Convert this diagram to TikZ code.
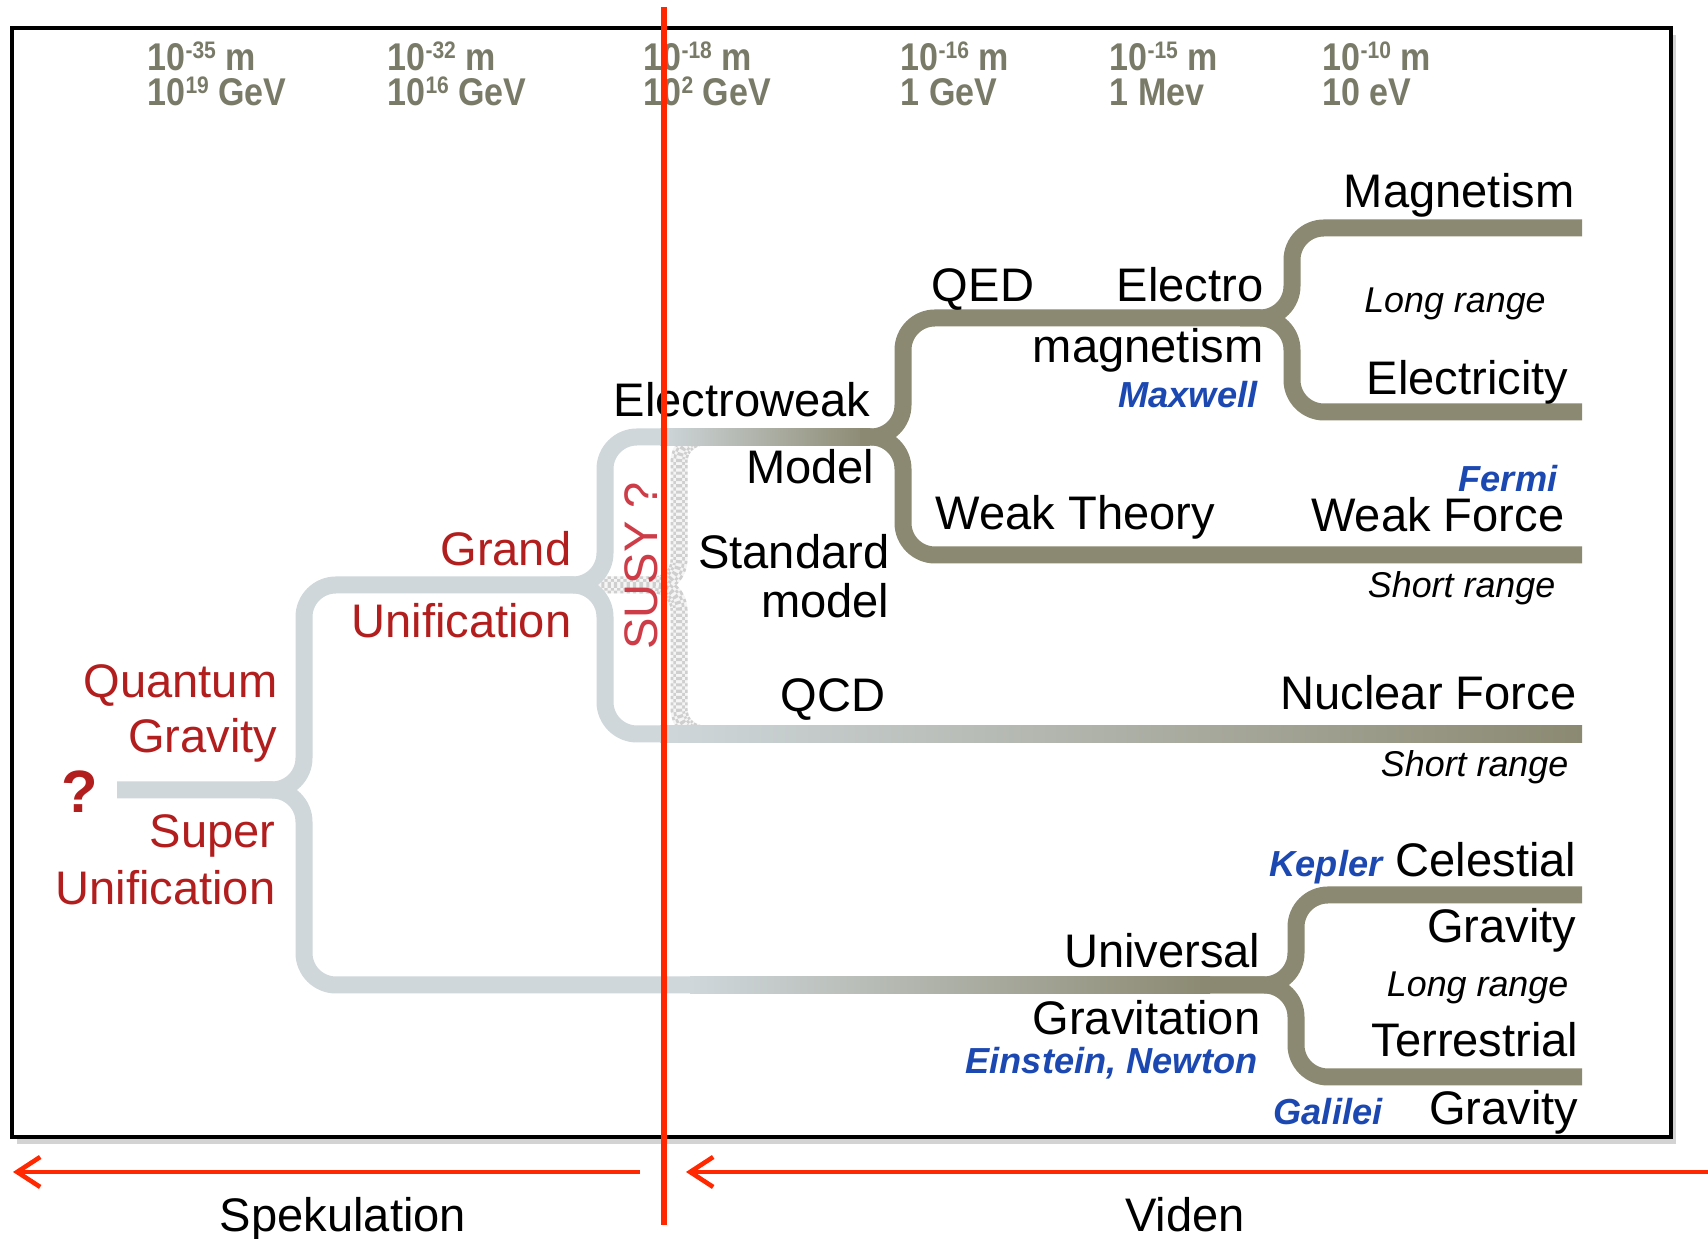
\documentclass[tikz,border=0pt]{standalone}
\usepackage{fontspec}
\setmainfont{Liberation Sans}
\newfontfamily\energyfam[FakeStretch=0.88]{Liberation Sans}
\usetikzlibrary{arrows.meta,shadows}

\definecolor{bandlight}{RGB}{207,215,219}
\definecolor{bandolive}{RGB}{139,137,113}
\definecolor{theoryred}{RGB}{178,30,30}
\definecolor{susyred}{RGB}{206,60,72}
\definecolor{namesblue}{RGB}{28,72,178}
\definecolor{energygray}{RGB}{122,122,104}
\definecolor{borderred}{RGB}{255,40,0}

\tikzset{
  band/.style={line width=1.7mm, rounded corners=3.2mm},
  susyband/.style={gray!38, rounded corners=2.5mm, dash pattern=on 0.9pt off 0.9pt},
  lbl/.style={inner sep=0pt, font=\fontsize{13.4}{16}\selectfont},
  theory/.style={lbl, text=theoryred},
  rangelbl/.style={inner sep=0pt, font=\fontsize{10.2}{12}\selectfont\itshape},
  who/.style={inner sep=0pt, text=namesblue, font=\fontsize{10.3}{12}\selectfont\bfseries\itshape},
  energylbl/.style={inner sep=0pt, text=energygray, font=\energyfam\fontsize{11}{12}\selectfont\bfseries},
  redarrow/.style={borderred, line width=1.3pt, -{Straight Barb[length=2.3mm,width=3mm]}}
}

% small raised exponent for the scale
\newcommand{\expo}[1]{\raisebox{0.6ex}{\fontsize{6.8}{7}\selectfont#1}}

% dotted (supersymmetric) arm, drawn as rows of dashes
\newcommand{\susyarm}[1]{%
  \draw[gray!8, line width=1.7mm, rounded corners=2.5mm] #1;
  \draw[susyband, line width=1.7mm] #1;
  \draw[gray!8, line width=1.15mm, rounded corners=2.5mm] #1;
  \draw[susyband, line width=1.15mm, dash phase=0.9pt] #1;
  \draw[gray!8, line width=0.6mm, rounded corners=2.5mm] #1;
  \draw[susyband, line width=0.6mm] #1;
}

\begin{document}
\begin{tikzpicture}
    \useasboundingbox (0,0) rectangle (17.08,12.39);

    \draw[line width=1.3pt, fill=white, drop shadow={shadow xshift=0.5mm, shadow yshift=-0.7mm, opacity=0.35}] (0.12,1.02) rectangle (16.71,12.11);

    % length and energy scale
    \foreach \x/\n/\en in {1.47/35/10\expo{19} GeV, 3.87/32/10\expo{16} GeV,
        6.43/18/10\expo{2} GeV, 9.00/16/1 GeV, 11.09/15/1 Mev, 13.22/10/10 eV}{
      \node[energylbl, anchor=base west] (len\n) at (\x,11.68) {10\expo{-\n} m};
      \node[energylbl, anchor=base west] (en\n) at (\x,11.33) {\en};
    }

    \susyarm{(5.95,6.54) -| (6.79,8.02) -- (7.05,8.02)}
    \susyarm{(6.40,6.54) -| (6.79,5.05) -- (7.05,5.05)}

    % unification bands
    \draw[band, bandlight] (1.17,4.49) -| (3.04,6.54) -| (6.05,8.02) -- (6.8,8.02);
    \draw[band, bandlight] (2.6,4.49) -| (3.04,2.54) -- (7.0,2.54);
    \draw[band, bandlight] (5.6,6.54) -| (6.05,5.05) -- (6.8,5.05);

    \shade[left color=bandlight, right color=bandolive] (6.6,7.935) rectangle (8.7,8.105);
    \shade[left color=bandlight, right color=bandolive] (6.6,4.965) rectangle (15.82,5.135);
    \shade[left color=bandlight, right color=bandolive] (6.9,2.455) rectangle (12.1,2.625);

    % known forces
    \draw[band, bandolive] (8.6,8.02) -| (9.03,9.21) -| (12.92,10.11) -- (15.82,10.11);
    \draw[band, bandolive] (12.4,9.21) -| (12.92,8.27) -- (15.82,8.27);
    \draw[band, bandolive] (8.6,8.02) -| (9.03,6.84) -- (15.82,6.84);
    \draw[band, bandolive] (12.0,2.54) -| (12.96,3.44) -- (15.82,3.44);
    \draw[band, bandolive] (12.0,2.54) -| (12.96,1.62) -- (15.82,1.62);

    % electroweak side
    \node[lbl, anchor=base east] (magnet) at (15.75,10.31) {Magnetism};
    \node[lbl, anchor=base] (qed) at (9.83,9.37) {QED};
    \node[lbl, anchor=base east] (electro) at (12.64,9.37) {Electro};
    \node[lbl, anchor=base east] (emag) at (12.64,8.76) {magnetism};
    \node[who, anchor=base east] (maxwell) at (12.58,8.31) {Maxwell};
    \node[rangelbl, anchor=base] (longem) at (14.55,9.26) {Long range};
    \node[lbl, anchor=base east] (elec) at (15.69,8.44) {Electricity};
    \node[lbl, anchor=base east] (ew) at (8.71,8.22) {Electroweak};
    \node[lbl, anchor=base east] (ewmodel) at (8.75,7.55) {Model};
    \node[who, anchor=base east] (fermi) at (15.58,7.47) {Fermi};
    \node[lbl, anchor=base west] (weakth) at (9.35,7.09) {Weak Theory};
    \node[lbl, anchor=base east] (weakf) at (15.65,7.07) {Weak Force};
    \node[rangelbl, anchor=base east] (shortw) at (15.56,6.41) {Short range};
    \node[lbl, anchor=base east] (std) at (8.90,6.70) {Standard};
    \node[lbl, anchor=base east] (stdm) at (8.90,6.21) {model};
    \node[lbl, anchor=base] (qcd) at (8.33,5.27) {QCD};
    \node[lbl, anchor=base east] (nuc) at (15.77,5.29) {Nuclear Force};
    \node[rangelbl, anchor=base east] (shortn) at (15.69,4.62) {Short range};

    % unified theories
    \node[theory, anchor=base east] (grand) at (5.72,6.73) {Grand};
    \node[theory, anchor=base east] (gut) at (5.72,6.01) {Unification};
    \node[theory, anchor=base east] (quant) at (2.78,5.41) {Quantum};
    \node[theory, anchor=base east] (qgrav) at (2.78,4.86) {Gravity};
    \node[theory, anchor=base east] (super) at (2.76,3.91) {Super};
    \node[theory, anchor=base east] (suni) at (2.76,3.34) {Unification};
    \node[theory, font=\fontsize{17}{20}\selectfont\bfseries, anchor=base] (root) at (0.80,4.26) {?};
    \node[lbl, text=susyred, rotate=90, anchor=base] (susy) at (6.57,6.73) {SUSY ?};

    % gravity side
    \node[who, anchor=base east] (kepler) at (13.83,3.62) {Kepler};
    \node[lbl, anchor=base east] (cel) at (15.77,3.62) {Celestial};
    \node[lbl, anchor=base east] (celg) at (15.77,2.96) {Gravity};
    \node[lbl, anchor=base east] (univ) at (12.61,2.71) {Universal};
    \node[rangelbl, anchor=base east] (longg) at (15.69,2.42) {Long range};
    \node[lbl, anchor=base east] (gravit) at (12.61,2.04) {Gravitation};
    \node[lbl, anchor=base east] (terr) at (15.79,1.82) {Terrestrial};
    \node[who, anchor=base east] (newton) at (12.58,1.65) {Einstein, Newton};
    \node[who, anchor=base east] (galilei) at (13.83,1.14) {Galilei};
    \node[lbl, anchor=base east] (terrg) at (15.79,1.14) {Gravity};

    % dividing line and the two directions
    \coordinate (cut top) at (6.64,12.32);
    \coordinate (cut bot) at (6.64,0.14);
    \draw[borderred, line width=1.6pt] (cut top) -- (cut bot);

    \coordinate (spec start) at (6.40,0.67);
    \coordinate (spec end) at (0.13,0.67);
    \coordinate (known start) at (17.08,0.67);
    \coordinate (known end) at (6.86,0.67);
    \draw[redarrow] (spec start) -- (spec end);
    \draw[redarrow] (known start) -- (known end);

    \node[lbl, anchor=base] (spec) at (3.43,0.07) {Spekulation};
    \node[lbl, anchor=base] (known) at (11.85,0.07) {Viden};
\end{tikzpicture}
\end{document}
